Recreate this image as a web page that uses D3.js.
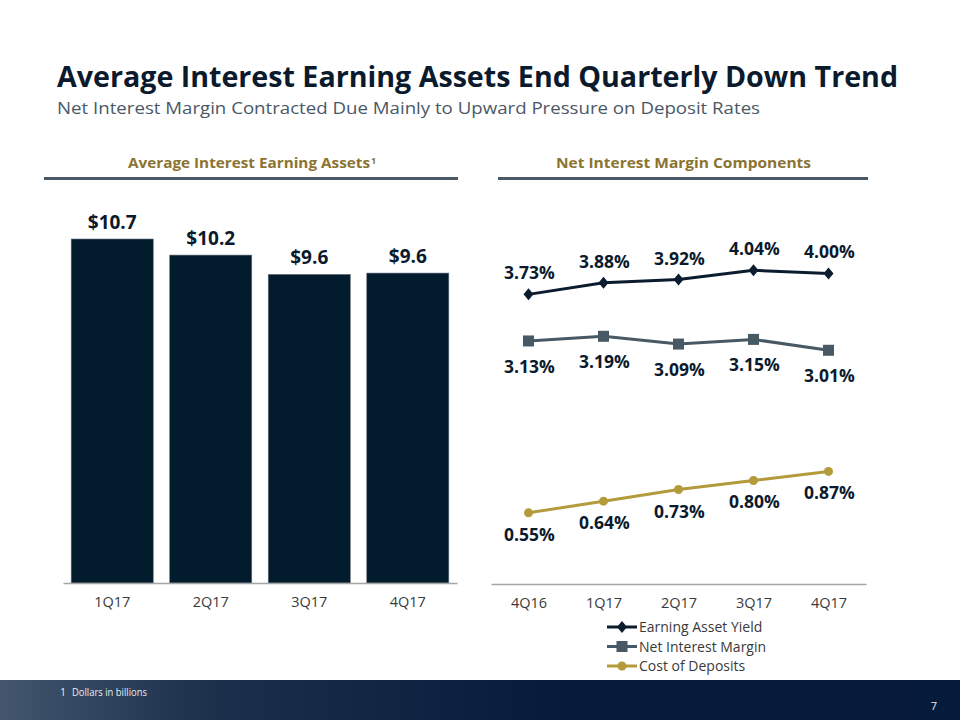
<!DOCTYPE html>
<html><head><meta charset="utf-8">
<script src="https://cdn.jsdelivr.net/npm/d3@7"></script>
<style>body{margin:0;background:#fff}svg{display:block}</style>
</head><body>
<script>
// ---- data ----
const barCategories = ["1Q17","2Q17","3Q17","4Q17"];
const barValues = [10.7, 10.2, 9.6, 9.64];
const lineCategories = ["4Q16","1Q17","2Q17","3Q17","4Q17"];
const earningAssetYield = [3.73, 3.88, 3.92, 4.04, 4.00];
const netInterestMargin = [3.13, 3.19, 3.09, 3.15, 3.01];
const costOfDeposits = [0.55, 0.64, 0.73, 0.80, 0.87];
const seriesNames = ["Earning Asset Yield","Net Interest Margin","Cost of Deposits"];

const W = 960, H = 720;
const svg = d3.select("body").append("svg").attr("width", W).attr("height", H);
const FONT = "'Open Sans', 'Noto Sans', sans-serif";
const NAVY = "#021c2e", GOLD = "#8b7330";

// defs
const defs = svg.append("defs");
const g1 = defs.append("linearGradient").attr("id","foot").attr("x1","0").attr("x2","1");
g1.append("stop").attr("offset","0").attr("stop-color","#43566e");
g1.append("stop").attr("offset","0.22").attr("stop-color","#1c2f4b");
g1.append("stop").attr("offset","0.6").attr("stop-color","#07193a");
g1.append("stop").attr("offset","1").attr("stop-color","#061a3a");

// ---- titles ----
svg.append("text").attr("x",57).attr("y",87).attr("font-family",FONT)
  .attr("font-weight","bold").attr("font-size",28).attr("fill","#0b1a2c")
  .attr("textLength",841).attr("lengthAdjust","spacingAndGlyphs")
  .text("Average Interest Earning Assets End Quarterly Down Trend");
svg.append("text").attr("x",57).attr("y",114).attr("font-family",FONT)
  .attr("font-size",16.5).attr("fill","#4a5866")
  .attr("textLength",703).attr("lengthAdjust","spacingAndGlyphs")
  .text("Net Interest Margin Contracted Due Mainly to Upward Pressure on Deposit Rates");

// section headers
svg.append("text").attr("x",128).attr("y",168)
  .attr("font-family",FONT).attr("font-weight","bold").attr("font-size",14).attr("fill",GOLD)
  .attr("textLength",242).attr("lengthAdjust","spacingAndGlyphs")
  .text("Average Interest Earning Assets");
svg.append("text").attr("x",371).attr("y",164)
  .attr("font-family",FONT).attr("font-weight","bold").attr("font-size",9).attr("fill",GOLD)
  .text("1");
svg.append("text").attr("x",683.5).attr("y",168).attr("text-anchor","middle")
  .attr("font-family",FONT).attr("font-weight","bold").attr("font-size",14).attr("fill",GOLD)
  .attr("textLength",255).attr("lengthAdjust","spacingAndGlyphs")
  .text("Net Interest Margin Components");
svg.append("rect").attr("x",44).attr("y",177).attr("width",414).attr("height",3).attr("fill","#4b5865");
svg.append("rect").attr("x",498).attr("y",177).attr("width",370).attr("height",3).attr("fill","#4b5865");

// ---- bar chart ----
const baseY = 583;
const xb = d3.scaleBand().domain(barCategories).range([63,457]).paddingInner(0.167).paddingOuter(0.083);
const yb = d3.scaleLinear().domain([0,12]).range([baseY, baseY - 12*32.15]);
const bars = svg.append("g");
bars.selectAll("rect").data(barValues).join("rect")
  .attr("x",(d,i)=>xb(barCategories[i])).attr("width",xb.bandwidth())
  .attr("y",d=>yb(d)).attr("height",d=>baseY-yb(d))
  .attr("fill",NAVY).attr("stroke","#6b7580").attr("stroke-width",0.6);
bars.selectAll("text").data(barValues).join("text")
  .attr("x",(d,i)=>xb(barCategories[i])+xb.bandwidth()/2).attr("y",d=>yb(d)-10)
  .attr("text-anchor","middle").attr("font-family",FONT).attr("font-weight","bold")
  .attr("font-size",19).attr("fill","#0b1a2c").text(d=>"$"+d3.format(".1f")(d));
const xAxisB = svg.append("g").attr("transform",`translate(0,${baseY})`)
  .call(d3.axisBottom(xb).tickSize(0).tickPadding(14));
xAxisB.select(".domain").attr("stroke","#a6a6a6").attr("stroke-width",1.5);
xAxisB.selectAll("text").attr("font-family",FONT).attr("font-size",14.5).attr("fill","#3a3a3a");

// ---- line chart ----
const lineBase = 584;
const xl = d3.scalePoint().domain(lineCategories).range([491,866]).padding(0.5);
const yl = d3.scaleLinear().domain([0,5]).range([lineBase, lineBase - 5*77.65]);
const yr = d3.scaleLinear().domain([0,3]).range([lineBase, lineBase - 3*129.4]);
const xAxisL = svg.append("g").attr("transform",`translate(0,${lineBase})`)
  .call(d3.axisBottom(xl).tickSize(0).tickPadding(14));
xAxisL.select(".domain").attr("stroke","#a6a6a6").attr("stroke-width",1.5);
xAxisL.selectAll("text").attr("font-family",FONT).attr("font-size",14.5).attr("fill","#3a3a3a");

const series = [
  {name:seriesNames[0], values:earningAssetYield, y:yl, color:"#0b1c2e", marker:"diamond", dy:-15},
  {name:seriesNames[1], values:netInterestMargin, y:yl, color:"#485966", marker:"square", dy:32},
  {name:seriesNames[2], values:costOfDeposits, y:yr, color:"#b39a3b", marker:"circle", dy:28}
];
function drawMarker(g, type, color){
  if(type==="diamond") g.append("path").attr("d","M0,-6L5,0L0,6L-5,0Z").attr("fill",color);
  else if(type==="square") g.append("rect").attr("x",-5.5).attr("y",-5.5).attr("width",11).attr("height",11).attr("fill",color);
  else g.append("circle").attr("r",4.5).attr("fill",color);
}
const cats = lineCategories;
series.forEach(s=>{
  const line = d3.line().x((d,i)=>xl(cats[i])).y(d=>s.y(d));
  svg.append("path").datum(s.values).attr("d",line).attr("fill","none")
    .attr("stroke",s.color).attr("stroke-width",3);
  s.values.forEach((v,i)=>{
    const g = svg.append("g").attr("transform",`translate(${xl(cats[i])},${s.y(v)})`);
    drawMarker(g, s.marker, s.color);
  });
  svg.append("g").selectAll("text").data(s.values).join("text")
    .attr("x",(d,i)=>xl(cats[i])+1).attr("y",d=>s.y(d)+s.dy)
    .attr("text-anchor","middle").attr("font-family",FONT).attr("font-weight","bold")
    .attr("font-size",17.5).attr("fill","#0b1a2c").text(d=>d3.format(".2f")(d)+"%");
});

// legend
const leg = svg.append("g");
series.forEach((s,i)=>{
  const y = 627 + i*19.5;
  leg.append("line").attr("x1",607).attr("x2",637).attr("y1",y).attr("y2",y)
    .attr("stroke",s.color).attr("stroke-width",3);
  const g = leg.append("g").attr("transform",`translate(622,${y})`);
  drawMarker(g, s.marker, s.color);
  leg.append("text").attr("x",639).attr("y",y+5).attr("font-family",FONT)
    .attr("font-size",14).attr("fill","#3a3a3a").text(s.name);
});

// footer
svg.append("rect").attr("x",0).attr("y",680).attr("width",W).attr("height",40).attr("fill","url(#foot)");
svg.append("text").attr("x",60).attr("y",696).attr("font-family",FONT).attr("font-size",10.5)
  .attr("fill","#e8ecf0").text("1");
svg.append("text").attr("x",72).attr("y",696).attr("font-family",FONT).attr("font-size",10.5)
  .attr("fill","#e8ecf0").attr("textLength",75).attr("lengthAdjust","spacingAndGlyphs").text("Dollars in billions");
svg.append("text").attr("x",937).attr("y",710).attr("text-anchor","end").attr("font-family",FONT)
  .attr("font-size",11).attr("fill","#e8ecf0").text("7");
</script>
</body></html>
